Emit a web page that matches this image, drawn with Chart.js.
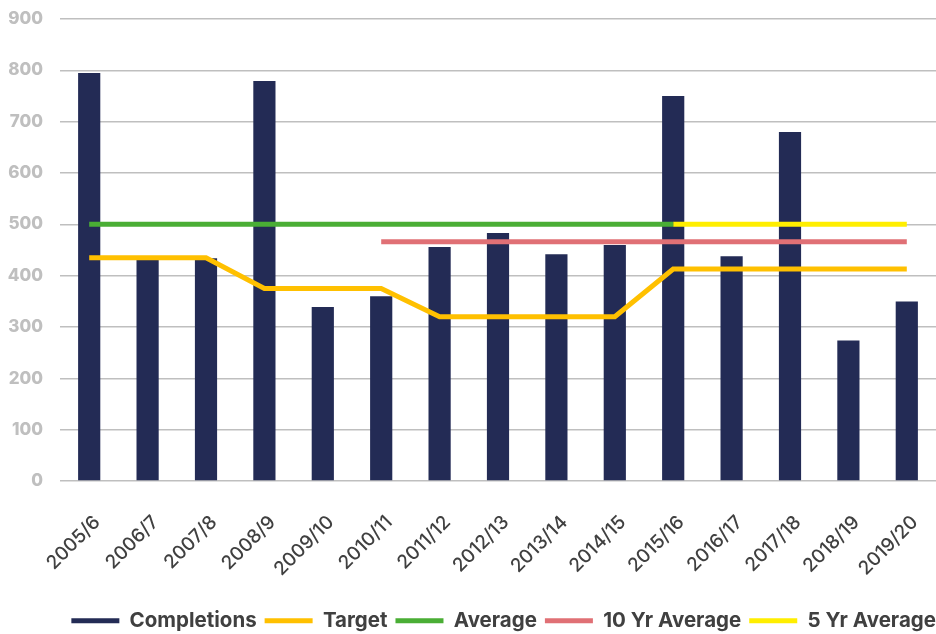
<!DOCTYPE html>
<html lang="en">
<head>
    <meta charset="UTF-8">
    <title>Completions</title>
    <script src="https://cdn.jsdelivr.net/npm/chart.js@4.4.1/dist/chart.umd.min.js"></script>
    <style>
        html, body { margin: 0; padding: 0; background: #fff; }
        .chart-wrapper { width: 936px; height: 634px; position: relative; }
    </style>
</head>
<body>
<div class="chart-wrapper">
    <canvas id="chart"></canvas>
</div>
<script>
    const years = ["2005/6", "2006/7", "2007/8", "2008/9", "2009/10", "2010/11", "2011/12", "2012/13",
        "2013/14", "2014/15", "2015/16", "2016/17", "2017/18", "2018/19", "2019/20"]
    const completions = [795, 431, 434, 779, 339, 360, 456, 483, 442, 460, 750, 438, 680, 274, 350]
    const target = [435, 435, 435, 375, 375, 375, 320, 320, 320, 320, 413, 413, 413, 413, 413]
    const average = [500, 500, 500, 500, 500, 500, 500, 500, 500, 500, 500, null, null, null, null]
    const tenYrAverage = [null, null, null, null, null, 466, 466, 466, 466, 466, 466, 466, 466, 466, 466]
    const fiveYrAverage = [null, null, null, null, null, null, null, null, null, null, 500, 500, 500, 500, 500]
    const yTicks = [0, 100, 200, 300, 400, 500, 600, 700, 800, 900]

    function lineSet(label, data, color) {
        return {
            type: "line",
            label: label,
            data: data,
            borderColor: color,
            backgroundColor: color,
            borderWidth: 5,
            pointRadius: 0,
            tension: 0,
            spanGaps: false,
            order: 1
        }
    }

    const defaultLabels = Chart.defaults.plugins.legend.labels.generateLabels

    // nudge the legend a little to the right, like the original
    const legendShift = {
        id: "legendShift",
        afterLayout(chart) {
            chart.legend.left += 8
            chart.legend.right += 8
        }
    }

    new Chart(document.getElementById("chart"), {
        type: "bar",
        data: {
            labels: years,
            datasets: [
                {
                    label: "Completions",
                    data: completions,
                    backgroundColor: "#232B55",
                    borderWidth: 0,
                    barPercentage: 0.38,
                    categoryPercentage: 1,
                    order: 10
                },
                lineSet("Target", target, "#FFC000"),
                lineSet("Average", average, "#4AAE35"),
                lineSet("10 Yr Average", tenYrAverage, "#E07075"),
                lineSet("5 Yr Average", fiveYrAverage, "#FFEE00")
            ]
        },
        plugins: [legendShift],
        options: {
            responsive: true,
            maintainAspectRatio: false,
            animation: false,
            layout: {padding: {top: 19, right: 0, bottom: -7, left: 0}},
            plugins: {
                tooltip: {enabled: false},
                legend: {
                    position: "bottom",
                    align: "end",
                    labels: {
                        boxWidth: 48,
                        boxHeight: 5,
                        padding: 8,
                        color: "#404040",
                        font: {family: "Inter", size: 20.5, weight: "bold"},
                        sort: (a, b) => a.datasetIndex - b.datasetIndex,
                        generateLabels: (chart) => defaultLabels(chart).map(item => {
                            item.lineWidth = 0
                            return item
                        })
                    }
                }
            },
            scales: {
                x: {
                    afterFit: (axis) => { axis.paddingRight = 0 },
                    grid: {display: false},
                    border: {display: false},
                    ticks: {
                        minRotation: 45,
                        maxRotation: 45,
                        color: "#404040",
                        padding: 22,
                        labelOffset: 8,
                        font: {family: "Inter", size: 19, weight: "500"}
                    }
                },
                y: {
                    min: 0,
                    max: 900,
                    afterFit: (axis) => {
                        axis.width = 60
                        axis.paddingTop = 0
                    },
                    afterBuildTicks: (axis) => { axis.ticks = yTicks.map(v => ({value: v})) },
                    border: {display: false},
                    grid: {color: "#BFBFBF", lineWidth: 1.5, drawTicks: false},
                    ticks: {
                        color: "#BFBFBF",
                        padding: 17,
                        font: {family: "Inter", size: 17, weight: "800"}
                    }
                }
            }
        }
    })
</script>
</body>
</html>
